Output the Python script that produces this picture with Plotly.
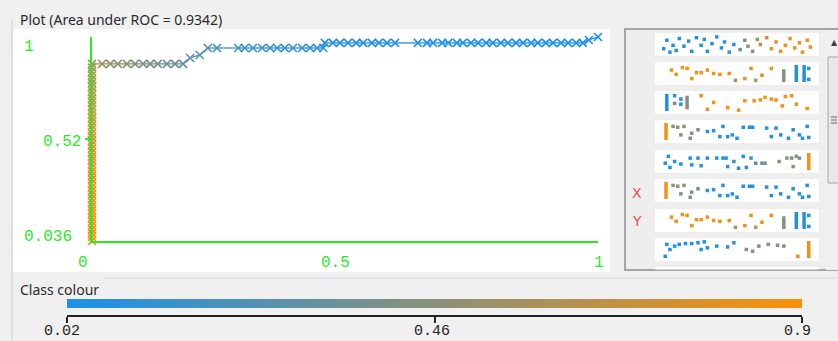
import numpy as np
import plotly.graph_objects as go

W, H = 838, 341

# ---------------- ROC curve (false positive rate, true positive rate, threshold) ----------------
fpr_rise = [0.0] * 47
tpr_rise = [0.036, 0.055, 0.073, 0.091, 0.109, 0.127, 0.145, 0.164, 0.182, 0.200,
            0.218, 0.236, 0.255, 0.273, 0.291, 0.309, 0.327, 0.345, 0.364, 0.382,
            0.400, 0.418, 0.436, 0.455, 0.473, 0.491, 0.509, 0.527, 0.545, 0.564,
            0.582, 0.600, 0.618, 0.636, 0.655, 0.673, 0.691, 0.709, 0.727, 0.745,
            0.764, 0.782, 0.800, 0.818, 0.836, 0.855, 0.873]
thr_rise = [0.90, 0.89, 0.89, 0.88, 0.88, 0.87, 0.87, 0.86, 0.86, 0.85,
            0.85, 0.84, 0.84, 0.83, 0.83, 0.82, 0.82, 0.81, 0.81, 0.80,
            0.80, 0.79, 0.79, 0.78, 0.78, 0.77, 0.77, 0.76, 0.76, 0.75,
            0.75, 0.74, 0.74, 0.73, 0.72, 0.71, 0.70, 0.69, 0.68, 0.67,
            0.66, 0.65, 0.64, 0.63, 0.62, 0.61, 0.60]

fpr_low = [0.020, 0.036, 0.051, 0.069, 0.085, 0.101, 0.115, 0.130, 0.148, 0.164, 0.180,
           0.194, 0.213]
tpr_low = [0.873, 0.873, 0.873, 0.873, 0.873, 0.873, 0.873, 0.873, 0.873, 0.873, 0.873,
           0.901, 0.915]
thr_low = [0.54, 0.51, 0.49, 0.47, 0.45, 0.43, 0.41, 0.39, 0.37, 0.35, 0.33,
           0.28, 0.25]

fpr_mid = [0.229, 0.247, 0.289, 0.302, 0.318, 0.336, 0.352, 0.366, 0.381, 0.397,
           0.415, 0.431, 0.445, 0.457]
tpr_mid = [0.948, 0.948, 0.948, 0.948, 0.948, 0.948, 0.948, 0.948, 0.948, 0.948,
           0.948, 0.948, 0.948, 0.948]
thr_mid = [0.20, 0.18, 0.16, 0.15, 0.14, 0.13, 0.12, 0.11, 0.10, 0.095,
           0.09, 0.085, 0.08, 0.075]

fpr_top = [0.460, 0.476, 0.490, 0.506, 0.522, 0.536, 0.553, 0.567, 0.583, 0.599,
           0.644, 0.662, 0.674, 0.692, 0.704, 0.721, 0.733, 0.749, 0.763, 0.779,
           0.792, 0.808, 0.822, 0.838, 0.852, 0.868, 0.881, 0.897, 0.911, 0.927,
           0.941, 0.957, 0.970, 0.982, 1.000]
tpr_top = [0.972, 0.972, 0.972, 0.972, 0.972, 0.972, 0.972, 0.972, 0.972, 0.972,
           0.972, 0.972, 0.972, 0.972, 0.972, 0.972, 0.972, 0.972, 0.972, 0.972,
           0.972, 0.972, 0.972, 0.972, 0.972, 0.972, 0.972, 0.972, 0.972, 0.972,
           0.972, 0.972, 0.972, 0.986, 1.000]
thr_top = [0.070, 0.068, 0.066, 0.064, 0.062, 0.060, 0.058, 0.056, 0.054, 0.052,
           0.050, 0.049, 0.048, 0.047, 0.046, 0.045, 0.044, 0.043, 0.042, 0.041,
           0.040, 0.039, 0.038, 0.037, 0.036, 0.035, 0.034, 0.033, 0.032, 0.031,
           0.030, 0.029, 0.028, 0.024, 0.020]

AUC = 0.9342
X_TICKS = [0, 0.5, 1]
Y_TICKS = [0.036, 0.52, 1]
CLASS_MIN, CLASS_MID, CLASS_MAX = 0.02, 0.46, 0.9

# ---------------- attribute strips: (position, jitter, class) and solid bars ----------------
STRIP_1_PTS = [(0.03, 0.75, 0.05), (0.05, 0.25, 0.04), (0.07, 0.95, 0.06), (0.09, 0.55, 0.03),
               (0.11, 0.85, 0.05), (0.13, 0.15, 0.07), (0.16, 0.60, 0.04), (0.19, 0.30, 0.05),
               (0.21, 0.90, 0.06), (0.24, 0.10, 0.03), (0.27, 0.55, 0.05), (0.29, 0.20, 0.08),
               (0.31, 0.90, 0.04), (0.34, 0.45, 0.06), (0.37, 0.05, 0.05), (0.40, 0.70, 0.10),
               (0.42, 0.35, 0.07), (0.45, 0.95, 0.12), (0.48, 0.50, 0.09), (0.52, 0.80, 0.30),
               (0.55, 0.25, 0.42), (0.57, 0.60, 0.50), (0.60, 0.90, 0.45), (0.63, 0.20, 0.55),
               (0.65, 0.50, 0.60), (0.69, 0.10, 0.70), (0.72, 0.75, 0.85), (0.75, 0.35, 0.80),
               (0.78, 0.90, 0.88), (0.81, 0.55, 0.86), (0.84, 0.15, 0.90), (0.87, 0.70, 0.87),
               (0.90, 0.40, 0.89), (0.92, 0.95, 0.88), (0.95, 0.25, 0.90), (0.97, 0.65, 0.86)]
STRIP_1_BARS = []

STRIP_2_PTS = [(0.08, 0.30, 0.88), (0.11, 0.55, 0.87), (0.15, 0.15, 0.89), (0.18, 0.20, 0.86),
               (0.21, 0.80, 0.88), (0.24, 0.45, 0.85), (0.27, 0.45, 0.90), (0.31, 0.30, 0.87),
               (0.35, 0.50, 0.88), (0.39, 0.55, 0.86), (0.45, 0.50, 0.84), (0.49, 0.90, 0.60),
               (0.55, 0.80, 0.82), (0.59, 0.20, 0.85), (0.62, 0.90, 0.65), (0.66, 0.60, 0.83),
               (0.72, 0.20, 0.86), (0.96, 0.20, 0.05), (0.96, 0.85, 0.04)]
STRIP_2_BARS = [(0.80, 0.25, 1.00, 0.45), (0.88, 0.00, 1.00, 0.05), (0.93, 0.00, 1.00, 0.04)]

STRIP_3_PTS = [(0.10, 0.10, 0.05), (0.10, 0.55, 0.40), (0.14, 0.30, 0.06), (0.14, 0.60, 0.05),
               (0.27, 0.10, 0.88), (0.31, 0.90, 0.86), (0.35, 0.50, 0.87), (0.44, 0.80, 0.89),
               (0.51, 0.95, 0.85), (0.55, 0.40, 0.88), (0.61, 0.40, 0.87), (0.65, 0.35, 0.86),
               (0.68, 0.20, 0.88), (0.72, 0.30, 0.89), (0.75, 0.35, 0.85), (0.79, 0.70, 0.87),
               (0.81, 0.15, 0.90), (0.85, 0.10, 0.86), (0.88, 0.60, 0.88), (0.95, 0.85, 0.87)]
STRIP_3_BARS = [(0.05, 0.00, 1.00, 0.05), (0.18, 0.10, 0.90, 0.45)]

STRIP_4_PTS = [(0.09, 0.20, 0.45), (0.12, 0.25, 0.50), (0.14, 0.70, 0.42), (0.16, 0.20, 0.48),
               (0.20, 0.90, 0.40), (0.21, 0.60, 0.44), (0.25, 0.40, 0.38), (0.31, 0.50, 0.06),
               (0.35, 0.45, 0.05), (0.39, 0.80, 0.04), (0.41, 0.20, 0.07), (0.44, 0.80, 0.05),
               (0.47, 0.70, 0.06), (0.50, 0.90, 0.03), (0.54, 0.25, 0.05), (0.58, 0.25, 0.04),
               (0.60, 0.25, 0.06), (0.69, 0.30, 0.05), (0.72, 0.80, 0.07), (0.75, 0.30, 0.04),
               (0.78, 0.70, 0.05), (0.83, 0.90, 0.06), (0.86, 0.40, 0.05), (0.90, 0.70, 0.04),
               (0.92, 0.90, 0.05), (0.95, 0.20, 0.06), (0.96, 0.85, 0.05)]
STRIP_4_BARS = [(0.045, 0.00, 1.00, 0.88)]

STRIP_5_PTS = [(0.04, 0.60, 0.05), (0.06, 0.20, 0.04), (0.07, 0.85, 0.06), (0.10, 0.50, 0.05),
               (0.14, 0.65, 0.03), (0.20, 0.30, 0.05), (0.21, 0.70, 0.06), (0.25, 0.30, 0.04),
               (0.27, 0.75, 0.05), (0.31, 0.30, 0.07), (0.37, 0.30, 0.05), (0.41, 0.30, 0.04),
               (0.43, 0.30, 0.06), (0.44, 0.80, 0.05), (0.48, 0.50, 0.05), (0.51, 0.90, 0.06),
               (0.54, 0.20, 0.04), (0.56, 0.85, 0.05), (0.59, 0.30, 0.12), (0.62, 0.60, 0.20),
               (0.66, 0.60, 0.35), (0.68, 0.60, 0.42), (0.77, 0.50, 0.45), (0.82, 0.30, 0.48),
               (0.85, 0.30, 0.44), (0.86, 0.80, 0.50), (0.88, 0.20, 0.46), (0.90, 0.30, 0.43)]
STRIP_5_BARS = [(0.96, 0.00, 1.00, 0.88)]

STRIP_8_PTS = [(0.04, 0.90, 0.05), (0.05, 0.20, 0.04), (0.07, 0.50, 0.06), (0.10, 0.30, 0.05),
               (0.13, 0.20, 0.04), (0.17, 0.15, 0.05), (0.21, 0.15, 0.06), (0.25, 0.10, 0.05),
               (0.27, 0.50, 0.04), (0.29, 0.05, 0.05), (0.31, 0.40, 0.06), (0.37, 0.30, 0.05),
               (0.44, 0.35, 0.10), (0.48, 0.10, 0.08), (0.56, 0.50, 0.40), (0.60, 0.60, 0.45),
               (0.64, 0.30, 0.42), (0.70, 0.20, 0.48), (0.76, 0.25, 0.44), (0.80, 0.30, 0.46),
               (0.89, 0.90, 0.80)]
STRIP_8_BARS = [(0.96, 0.00, 1.00, 0.86)]

ROW_TOPS = [33, 62, 91, 120, 150, 179, 209, 238]
ROW_HEIGHT = 23
ROWS = [(STRIP_1_PTS, STRIP_1_BARS), (STRIP_2_PTS, STRIP_2_BARS), (STRIP_3_PTS, STRIP_3_BARS),
        (STRIP_4_PTS, STRIP_4_BARS), (STRIP_5_PTS, STRIP_5_BARS), (STRIP_4_PTS, STRIP_4_BARS),
        (STRIP_2_PTS, STRIP_2_BARS), (STRIP_8_PTS, STRIP_8_BARS)]

# ---------------- styling ----------------
BLUE = (25, 145, 235)
ORANGE = (250, 145, 10)
SCALE = [[0, "rgb(%d,%d,%d)" % BLUE], [1, "rgb(%d,%d,%d)" % ORANGE]]
GREEN = "rgb(40,235,40)"
BG = "#F0F0F0"
MONO = "Liberation Mono"
SANS = "Noto Sans"


def class_rgb(v):
    t = (v - CLASS_MIN) / (CLASS_MAX - CLASS_MIN)
    t = min(max(t, 0), 1)
    c = [round(a + (b - a) * t) for a, b in zip(BLUE, ORANGE)]
    return "rgb(%d,%d,%d)" % tuple(c)


def px(x):
    return x / W


def py(y):
    return 1 - y / H


fpr = fpr_rise + fpr_low + fpr_mid + fpr_top
tpr = tpr_rise + tpr_low + tpr_mid + tpr_top
thr = thr_rise + thr_low + thr_mid + thr_top

fig = go.Figure()

# connecting segments, each coloured by its starting threshold
for i in range(len(fpr) - 1):
    fig.add_trace(go.Scatter(
        x=[fpr[i], fpr[i + 1]], y=[tpr[i], tpr[i + 1]], mode="lines",
        line=dict(color=class_rgb(thr[i]), width=1.3),
        hoverinfo="skip", showlegend=False, cliponaxis=False))

fig.add_trace(go.Scatter(
    x=fpr, y=tpr, mode="markers", showlegend=False, cliponaxis=False,
    marker=dict(symbol="x-thin-open", size=8, color=thr, colorscale=SCALE,
                cmin=CLASS_MIN, cmax=CLASS_MAX, line=dict(width=1.6)),
    customdata=thr, hovertemplate="FPR %{x}<br>TPR %{y}<br>threshold %{customdata}<extra></extra>"))

# attribute strips
for top, (pts, bars) in zip(ROW_TOPS, ROWS):
    for bx, b0, b1, bc in bars:
        fig.add_trace(go.Scatter(
            x=[bx, bx], y=[top + 3 + b0 * 17, top + 3 + b1 * 17], mode="lines",
            line=dict(color=class_rgb(bc), width=3.5), xaxis="x2", yaxis="y2",
            hoverinfo="skip", showlegend=False))
    fig.add_trace(go.Scatter(
        x=[p[0] for p in pts], y=[top + 3 + p[1] * 17 for p in pts], mode="markers",
        xaxis="x2", yaxis="y2", showlegend=False, hoverinfo="skip",
        marker=dict(symbol="square", size=3.5, color=[p[2] for p in pts],
                    colorscale=SCALE, cmin=CLASS_MIN, cmax=CLASS_MAX, line=dict(width=0))))

# class colour bar
grad = np.linspace(CLASS_MIN, CLASS_MAX, 300)
fig.add_trace(go.Heatmap(x=grad, y=[0], z=[grad], colorscale=SCALE, zmin=CLASS_MIN,
                         zmax=CLASS_MAX, showscale=False, xaxis="x3", yaxis="y3",
                         hoverinfo="skip"))

shapes = [
    # plot panel and group box edges
    dict(type="rect", xref="paper", yref="paper", x0=px(13), x1=px(610), y0=py(272), y1=py(29),
         fillcolor="white", line=dict(width=0), layer="below"),
    dict(type="line", xref="paper", yref="paper", x0=px(12), x1=px(12), y0=py(20), y1=0,
         line=dict(color="#D3DAE2", width=1.5), layer="below"),
    dict(type="line", xref="paper", yref="paper", x0=px(104), x1=1, y0=py(278), y1=py(278),
         line=dict(color="#DCE2E8", width=1.5), layer="below"),
    # attribute panel frame
    dict(type="rect", xref="paper", yref="paper", x0=px(625), x1=px(845), y0=py(270), y1=py(29),
         fillcolor="#EEEEEE", line=dict(color="#8C8C8C", width=1.5), layer="below"),
    # scrollbar
    dict(type="rect", xref="paper", yref="paper", x0=px(826), x1=px(845), y0=py(270), y1=py(30),
         fillcolor="#F0F0F0", line=dict(width=0), layer="below"),
    dict(type="rect", xref="paper", yref="paper", x0=px(828), x1=px(845), y0=py(183), y1=py(57),
         fillcolor="#E8E8E8", line=dict(color="#A6A6A6", width=1), layer="below"),
]
# grip lines on the scrollbar thumb
for gy in (117, 120, 123):
    shapes.append(dict(type="line", xref="paper", yref="paper", x0=px(831), x1=px(837),
                       y0=py(gy), y1=py(gy), line=dict(color="#606060", width=1)))
for top in ROW_TOPS:
    shapes.append(dict(type="rect", xref="paper", yref="paper", x0=px(655), x1=px(819),
                       y0=py(top + ROW_HEIGHT), y1=py(top), fillcolor="white",
                       line=dict(width=0), layer="below"))
shapes.append(dict(type="rect", xref="paper", yref="paper", x0=px(655), x1=px(819),
                   y0=py(269.5), y1=py(267), fillcolor="white", line=dict(width=0), layer="below"))

annotations = [
    dict(text="Plot (Area under ROC = %.4f)" % AUC, x=px(18), y=py(20), xanchor="left",
         yanchor="middle", font=dict(family=SANS, size=14, color="#2A2A2A")),
    dict(text="Class colour", x=px(18), y=py(289), xanchor="left", yanchor="middle",
         font=dict(family=SANS, size=14, color="#2A2A2A")),
    dict(text="X", x=px(637), y=py(193), font=dict(family="DejaVu Sans", size=14, color="#EE4A4A")),
    dict(text="Y", x=px(637), y=py(221), font=dict(family="DejaVu Sans", size=14, color="#EE4A4A")),
    dict(text="▲", x=px(834), y=py(42), font=dict(family="DejaVu Sans", size=8, color="#404040")),
]
# axis value labels
for val, (cx, cy) in zip(Y_TICKS, [(48, 237), (62, 142), (29, 47)]):
    annotations.append(dict(text=("%g" % val), x=px(cx), y=py(cy),
                            font=dict(family=MONO, size=16, color=GREEN)))
for val, cx in zip(X_TICKS, [83, 335, 599]):
    annotations.append(dict(text=("%g" % val), x=px(cx), y=py(263),
                            font=dict(family=MONO, size=16, color=GREEN)))
for val, cx in zip([CLASS_MIN, CLASS_MID, CLASS_MAX], [62, 432, 797]):
    annotations.append(dict(text=("%g" % val), x=px(cx), y=py(331),
                            font=dict(family=MONO, size=15, color="#222222")))
for a in annotations:
    a.update(xref="paper", yref="paper", showarrow=False)
    a.setdefault("xanchor", "center")
    a.setdefault("yanchor", "middle")

fig.update_layout(
    width=W, height=H, margin=dict(l=0, r=0, t=0, b=0),
    paper_bgcolor=BG, plot_bgcolor="rgba(0,0,0,0)", showlegend=False,
    xaxis=dict(domain=[px(92), px(598)], range=[0, 1], showgrid=False, zeroline=False,
               showline=True, linecolor=GREEN, linewidth=2, showticklabels=False, ticks="",
               anchor="y", fixedrange=True),
    yaxis=dict(domain=[py(241), py(37)], range=[0.036, 1], showgrid=False, zeroline=False,
               showline=True, linecolor=GREEN, linewidth=2, showticklabels=False,
               tickvals=[0.52], ticks="outside", ticklen=5, tickwidth=1.5, tickcolor=GREEN,
               anchor="x", fixedrange=True),
    xaxis2=dict(domain=[px(659), px(815)], range=[0, 1], visible=False, anchor="y2"),
    yaxis2=dict(domain=[py(270), py(29)], range=[270, 29], visible=False, anchor="x2"),
    xaxis3=dict(domain=[px(67), px(802)], range=[CLASS_MIN, CLASS_MAX], anchor="free",
                position=py(316), showline=True, linecolor="#222222", linewidth=1.5,
                tickvals=[CLASS_MIN, CLASS_MID, CLASS_MAX], ticks="outside", ticklen=6,
                tickwidth=1.5, tickcolor="#222222", showticklabels=False, showgrid=False,
                zeroline=False),
    yaxis3=dict(domain=[py(308), py(299)], range=[-0.5, 0.5], visible=False, anchor="x3"),
    shapes=shapes, annotations=annotations,
)

fig.write_html("out.html")
